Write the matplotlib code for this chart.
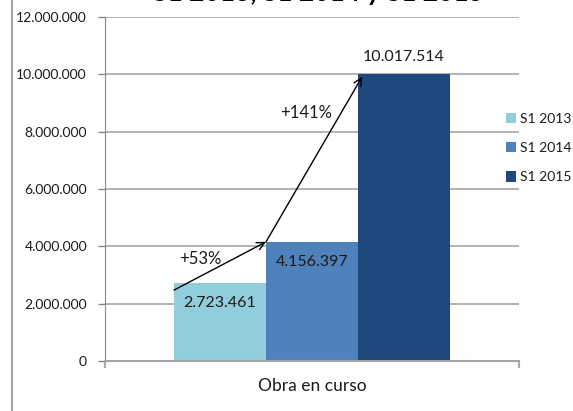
import matplotlib
matplotlib.use("Agg")
import matplotlib.pyplot as plt
from matplotlib.lines import Line2D
from matplotlib.patches import Patch

categories = ["Obra en curso"]
series_names = ["S1 2013", "S1 2014", "S1 2015"]
values = [2723461, 4156397, 10017514]
value_labels = ["2.723.461", "4.156.397", "10.017.514"]
colors = ["#92CDDC", "#4F81BD", "#1F497D"]
growth_labels = ["+53%", "+141%"]
yticks = [0, 2000000, 4000000, 6000000, 8000000, 10000000, 12000000]
ytick_labels = ["0", "2.000.000", "4.000.000", "6.000.000", "8.000.000", "10.000.000", "12.000.000"]
title = "S1 2013, S1 2014 y S1 2015"

plt.rcParams['font.family'] = ['Lato', 'DejaVu Sans']

W, H = 573, 411
fig = plt.figure(figsize=(W / 100, H / 100), dpi=100)
ax = fig.add_axes([105 / W, 1 - 361 / H, (519 - 105) / W, (361 - 17) / H])

bw = 1 / 3
xs = [-bw, 0, bw]
bars = ax.bar(xs, values, width=bw, color=colors, zorder=2)
ax.set_xlim(-0.75, 0.75)
ax.set_ylim(0, 12000000)
ax.set_yticks(yticks)
ax.set_yticklabels(ytick_labels, fontsize=10, color="#1a1a1a")
ax.set_xticks([-0.75, 0.75])
ax.set_xticklabels(["", ""])
ax.tick_params(axis='x', length=5, color="#AAAAAA", width=1.5, direction='out')
ax.tick_params(axis='y', length=5, color="#888888", width=1, direction='out', pad=8)
ax.grid(axis='y', color="#A6A6A6", linewidth=1.2, zorder=0)
for s in ["top", "right"]:
    ax.spines[s].set_visible(False)
ax.spines["left"].set_color("#888888")
ax.spines["bottom"].set_color("#A6A6A6")
ax.spines["bottom"].set_linewidth(1.5)

ax.text(0, -0.072, categories[0], transform=ax.get_xaxis_transform(), ha='center', va='center', fontsize=12.5, color="#1a1a1a")

# data labels
lab_fs = 11.5
ax.text(xs[0], values[0] - 700000, value_labels[0], ha='center', va='center', fontsize=lab_fs, color="#1a1a1a", zorder=4)
ax.text(xs[1], values[1] - 700000, value_labels[1], ha='center', va='center', fontsize=lab_fs, color="#1a1a1a", zorder=4)
ax.text(xs[2], values[2] + 580000, value_labels[2], ha='center', va='center', fontsize=lab_fs, color="#1a1a1a", zorder=4)

# growth arrows
p0 = (xs[0] - bw / 2, values[0] - 250000)
p1 = (xs[1] - bw / 2, values[1])
p2 = (xs[2] - bw / 2 + 0.015, values[2] - 100000)
ax.annotate("", xy=p1, xytext=p0, arrowprops=dict(arrowstyle="->", color="black", lw=1, mutation_scale=14, shrinkA=0, shrinkB=0), zorder=5)
ax.annotate("", xy=p2, xytext=p1, arrowprops=dict(arrowstyle="->", color="black", lw=1, mutation_scale=14, shrinkA=0, shrinkB=0), zorder=5)
ax.text(-0.405, 3550000, growth_labels[0], ha='center', va='center', fontsize=12, color="#1a1a1a", zorder=4)
ax.text(-0.022, 8650000, growth_labels[1], ha='center', va='center', fontsize=12, color="#1a1a1a", zorder=4)

# legend
handles = [Patch(facecolor=c, edgecolor='none') for c in colors]
leg = fig.legend(handles, series_names, loc='upper left', bbox_to_anchor=(500 / W, 1 - 107 / H),
                 frameon=False, fontsize=10, handlelength=0.75, handleheight=0.75, handletextpad=0.3,
                 labelspacing=1.25, borderaxespad=0)
for t in leg.get_texts():
    t.set_color("#1a1a1a")

# title (partly cut off at top, as in the reference)
fig.text(318 / W, 1 - 5 / H, title, ha='center', va='bottom', fontsize=19, fontweight='bold', color="black")

# chart frame left border
fig.add_artist(Line2D([11.5 / W, 11.5 / W], [0, 1], color="#A6A6A6", lw=1.5))

fig.savefig("out.png", dpi=100)
